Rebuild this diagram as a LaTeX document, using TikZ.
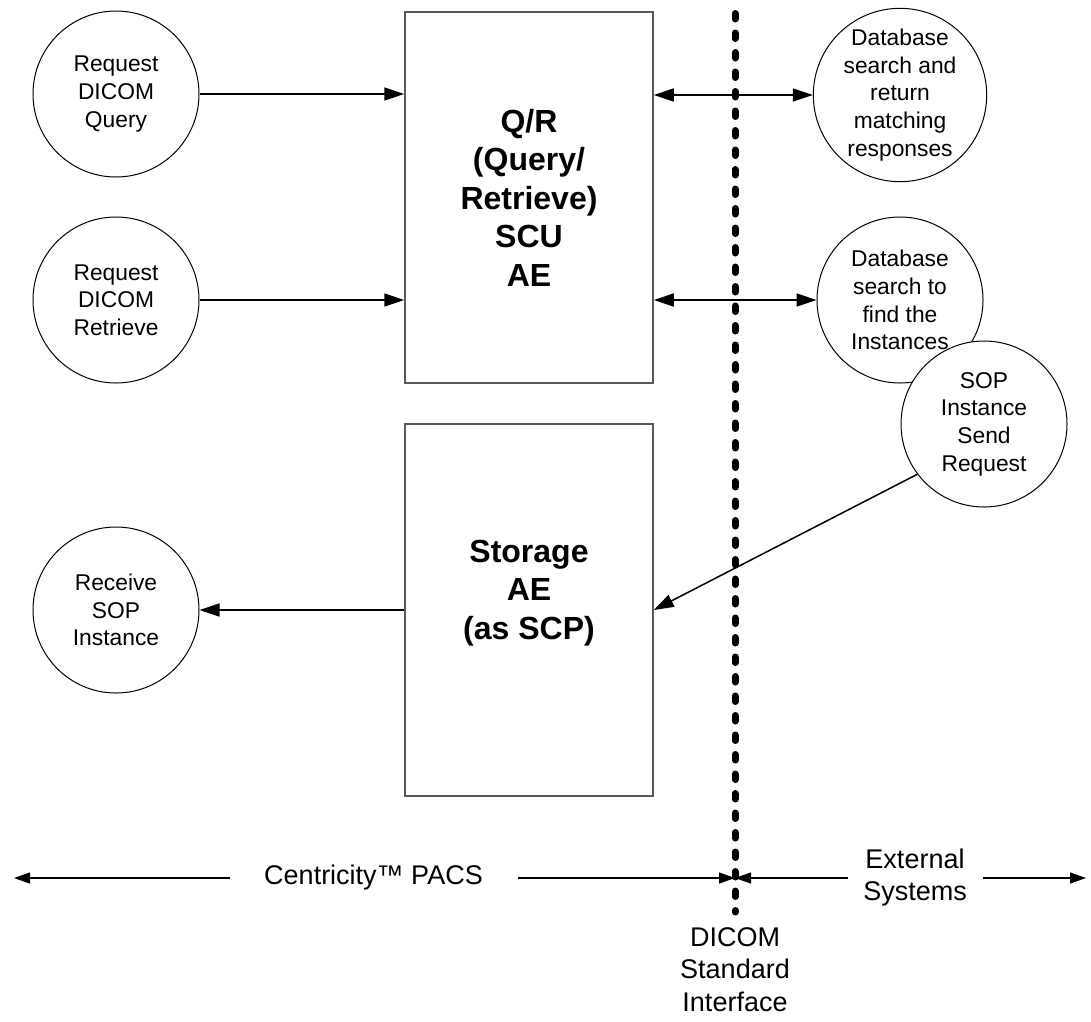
\documentclass[tikz,border=0pt]{standalone}
\usepackage{fontspec}
\setmainfont{Liberation Sans}
\usetikzlibrary{arrows.meta}
\begin{document}
\begin{tikzpicture}[x=1pt,y=-1pt,
  circ/.style={circle, draw, line width=1pt, fill=white, minimum size=166pt, inner sep=0pt, align=center, font=\fontsize{22.8pt}{27.7pt}\selectfont},
  box/.style={draw=black!65, line width=1.5pt, minimum width=248pt, minimum height=371pt, inner sep=0pt, align=center, font=\bfseries\fontsize{32pt}{38.5pt}\selectfont},
  boxtext/.style={align=center, inner sep=0pt, font=\bfseries\fontsize{32pt}{38.5pt}\selectfont},
  arr/.style={line width=1.5pt, -{Triangle[length=20pt,width=13pt]}},
  darr/.style={line width=1.5pt, {Triangle[length=20pt,width=13pt]}-{Triangle[length=20pt,width=13pt]}},
  barr/.style={line width=1.2pt, -{Triangle[length=16pt,width=11pt]}},
  divider/.style={line width=7pt, dash pattern=on 5.5pt off 14pt, line cap=round},
  lbl/.style={align=center, inner sep=0pt, font=\fontsize{27pt}{32.5pt}\selectfont}]
\useasboundingbox (0,0) rectangle (1091,1021);

% boxes
\node[box] (qr) at (529,197.5) {Q/R\\(Query/\\Retrieve)\\SCU\\AE};
\node[box, minimum height=372pt] (st) at (529,610) {};
\node[boxtext] (sttext) at (529,593) {Storage\\AE\\(as SCP)};

% left circles
\node[circ] (q) at (116,94) {Request\\DICOM\\Query};
\node[circ] (rt) at (116,300) {Request\\DICOM\\Retrieve};
\node[circ] (rc) at (116,610) {Receive\\SOP\\Instance};

% right circles
\node[circ] (r1) at (900,95) {Database\\search and\\return\\matching\\responses};
\node[circ] (r2) at (900,300) {Database\\search to\\find the\\Instances};
\node[circ] (sop) at (984,424) {SOP\\Instance\\Send\\Request};

% connectors
\draw[arr] (q.east) -- (q.east -| qr.west);
\draw[arr] (rt.east) -- (rt.east -| qr.west);
\draw[darr] (r1.west -| qr.east) -- (r1.west);
\draw[darr] (r2.west -| qr.east) -- (r2.west);
\draw[arr] (rc.east -| st.west) -- (rc.east);
\draw[arr] (sop.217) -- (st.east);

% divider
\coordinate (dtop) at (735,13.5);
\coordinate (dbot) at (735,912);
\draw[divider] (dtop) -- (dbot);

% bottom labels and arrows
\node[lbl] (pacs) at (373.5,878) {Centricity™ PACS};
\node[lbl] (ext) at (915,877.5) {External\\Systems};
\node[lbl, anchor=north] (dsi) at (735,927) {DICOM\\Standard\\Interface};
\coordinate (mid) at (735,878);
\coordinate (la) at (230,878);
\coordinate (lt) at (14,878);
\coordinate (lb) at (518,878);
\coordinate (rb) at (848,878);
\coordinate (ra) at (983,878);
\coordinate (rtip) at (1086,878);
\draw[barr] (la) -- (lt);
\draw[barr] (lb) -- (mid);
\draw[barr] (rb) -- (mid);
\draw[barr] (ra) -- (rtip);
\end{tikzpicture}
\end{document}
